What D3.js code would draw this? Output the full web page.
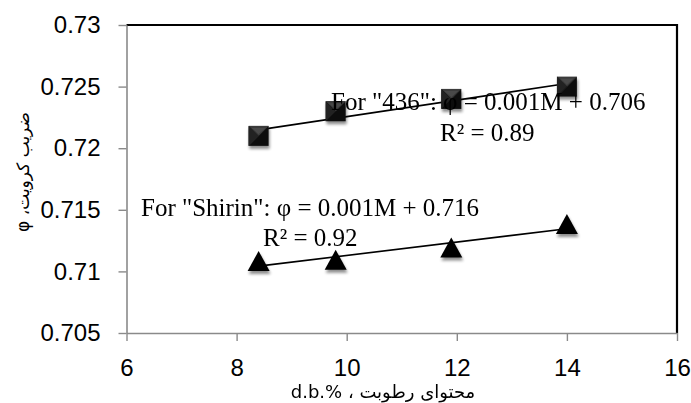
<!DOCTYPE html>
<html><head><meta charset="utf-8">
<script src="https://cdn.jsdelivr.net/npm/d3@7"></script>
<style>body{margin:0;background:#fff}svg{display:block}</style>
</head><body><svg id="c" width="691" height="403"></svg>
<script>
// ---- data ----
const moisture = [8.4, 9.8, 11.9, 14.0];
const phi436 = [0.721, 0.723, 0.724, 0.725];
const phiShirin = [0.7108, 0.7109, 0.7119, 0.7138];
const xTicks = [6, 8, 10, 12, 14, 16];
const yTicks = [0.705, 0.71, 0.715, 0.72, 0.725, 0.73];
const yTickLabels = ["0.705", "0.71", "0.715", "0.72", "0.725", "0.73"];
const eq436 = 'For "436": φ = 0.001M + 0.706';
const r436 = "R² = 0.89";
const eqShirin = 'For "Shirin": φ = 0.001M + 0.716';
const rShirin = "R² = 0.92";
const xTitle = "محتوای رطوبت ، d.b.%\u200E";
const yTitle = "ضریب کرویت، φ";

// ---- layout ----
const svg = d3.select("#c");
const x = d3.scaleLinear().domain([6, 16]).range([126.5, 677]);
const y = d3.scaleLinear().domain([0.705, 0.73]).range([333, 25]);
const axisColor = "#8a8a8a";

const defs = svg.append("defs");
const f = defs.append("filter").attr("id","sh").attr("x","-50%").attr("y","-50%").attr("width","200%").attr("height","200%");
f.append("feGaussianBlur").attr("in","SourceAlpha").attr("stdDeviation",1.6).attr("result","b");
f.append("feOffset").attr("in","b").attr("dx",1).attr("dy",3).attr("result","o");
f.append("feComponentTransfer").attr("in","o").attr("result","o2")
  .append("feFuncA").attr("type","linear").attr("slope",0.45);
const m = f.append("feMerge");
m.append("feMergeNode").attr("in","o2");
m.append("feMergeNode").attr("in","SourceGraphic");

// frame top/right
svg.append("path").attr("d", `M${x(6)},${y(0.73)}H${x(16)}V${y(0.705)}`)
  .attr("fill","none").attr("stroke","#000").attr("stroke-width",2.2);

// axes
const gy = svg.append("g").attr("transform",`translate(${x(6)},0)`)
  .call(d3.axisLeft(y).tickValues(yTicks).tickSize(8).tickSizeOuter(0).tickPadding(18)
    .tickFormat((d,i)=>yTickLabels[i]));
const gx = svg.append("g").attr("transform",`translate(0,${y(0.705)})`)
  .call(d3.axisBottom(x).tickValues(xTicks).tickSize(8).tickSizeOuter(0).tickPadding(18)
    .tickFormat(d3.format("d")));
[gx, gy].forEach(g=>{
  g.select(".domain").attr("stroke",axisColor).attr("stroke-width",1.6);
  g.selectAll(".tick line").attr("stroke",axisColor).attr("stroke-width",1.4);
  g.selectAll(".tick text").attr("fill","#000").style("font-family","'Liberation Sans', Arial, sans-serif").style("font-size","24px");
});

// regression helper
function fit(xs, ys){
  const mx=d3.mean(xs), my=d3.mean(ys);
  let sxy=0,sxx=0; xs.forEach((v,i)=>{sxy+=(v-mx)*(ys[i]-my); sxx+=(v-mx)**2;});
  const b=sxy/sxx; return v=>my+b*(v-mx);
}
const x0=d3.min(moisture), x1=d3.max(moisture);
[phi436, phiShirin].forEach(ys=>{
  const fn=fit(moisture, ys);
  svg.append("line").attr("x1",x(x0)).attr("y1",y(fn(x0))).attr("x2",x(x1)).attr("y2",y(fn(x1)))
    .attr("stroke","#000").attr("stroke-width",1.6);
});

// squares
const sq = 10;
const gs = svg.append("g").attr("filter","url(#sh)");
moisture.forEach((mv,i)=>{
  const cx=x(mv), cy=y(phi436[i]);
  const g=gs.append("g").attr("transform",`translate(${cx},${cy})`);
  g.append("rect").attr("x",-sq).attr("y",-sq).attr("width",2*sq).attr("height",2*sq).attr("fill","#111");
  g.append("path").attr("d",`M${-sq},${-sq}L${sq},${-sq}L0,0Z`).attr("fill","#3a3a3a");
  g.append("path").attr("d",`M${-sq},${-sq}L${-sq},${sq}L0,0Z`).attr("fill","#222");
  g.append("path").attr("d",`M${-sq+3},${-sq+2}L${sq-3},${-sq+2}L0,-2Z`).attr("fill","#4a4a4a");
});
// triangles
const gt = svg.append("g").attr("filter","url(#sh)");
moisture.forEach((mv,i)=>{
  const cx=x(mv), cy=y(phiShirin[i]);
  gt.append("path").attr("d",`M${cx},${cy-10.5}L${cx+11},${cy+9.5}L${cx-11},${cy+9.5}Z`).attr("fill","#000");
});

// annotations
const serif = "'Liberation Serif','Times New Roman',serif";
const ann = [[eq436,331,110],[r436,440,141],[eqShirin,141,216],[rShirin,263,246]];
ann.forEach(a=>svg.append("text").attr("x",a[1]).attr("y",a[2]).text(a[0])
  .style("font-family",serif).style("font-size","25px").attr("fill","#000"));

// titles
svg.append("text").attr("x",383).attr("y",398).attr("text-anchor","middle").attr("direction","rtl")
  .style("font-family","'DejaVu Sans',sans-serif").style("font-size","18px").text(xTitle);
svg.append("text").attr("transform","translate(29,172) rotate(-90)").attr("text-anchor","middle").attr("direction","rtl")
  .style("font-family","'DejaVu Sans',sans-serif").style("font-size","17px").text(yTitle);
</script></body></html>
